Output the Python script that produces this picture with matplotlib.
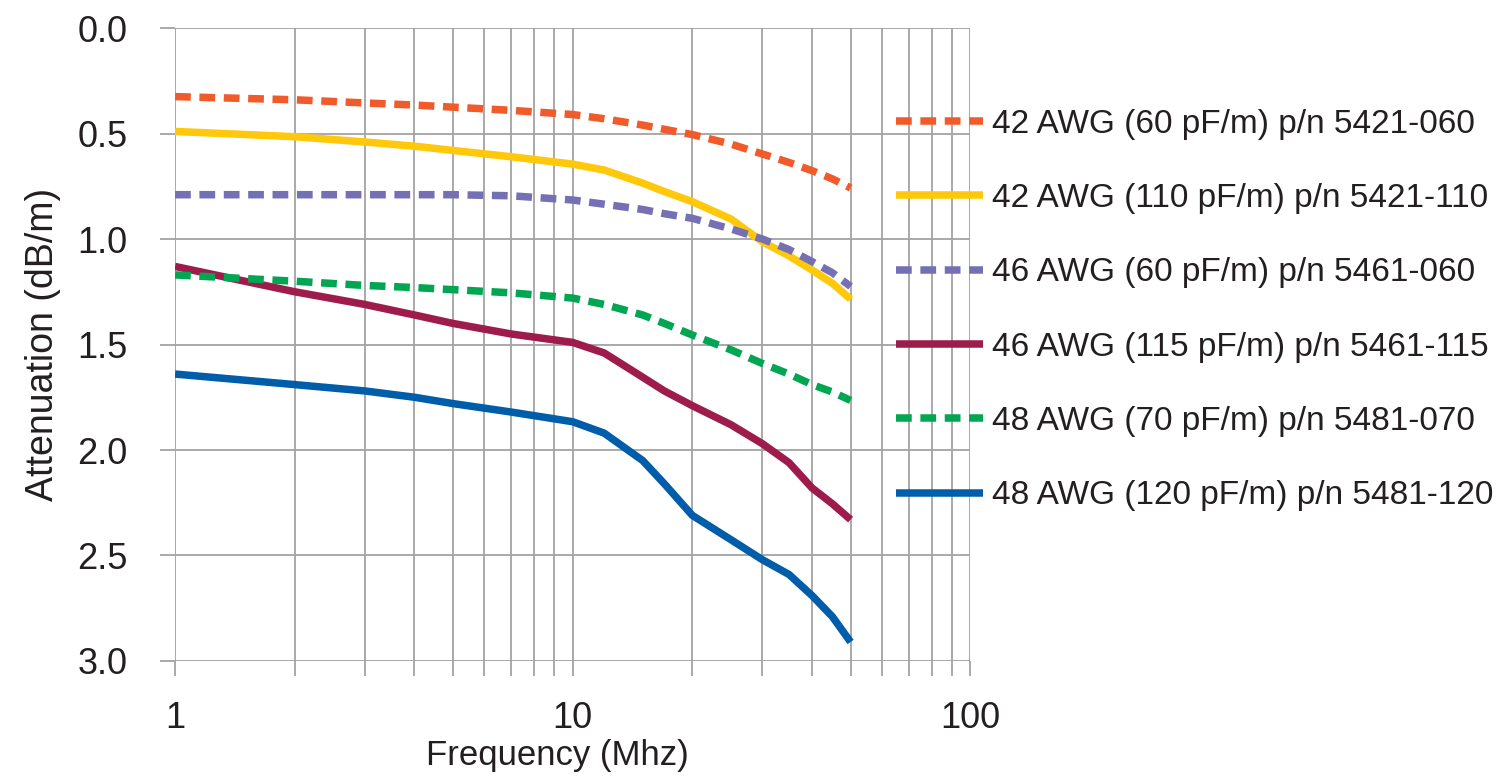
import matplotlib
matplotlib.use("Agg")
import matplotlib.pyplot as plt
from matplotlib.ticker import LogLocator, FixedLocator, NullFormatter

plt.rcParams["font.family"] = ["Liberation Sans", "DejaVu Sans"]

# frequency points (MHz)
freq = [1, 2, 3, 4, 5, 7, 10, 12, 15, 17, 20, 25, 30, 35, 40, 45, 50]

# attenuation (dB/m)
awg42_60  = [0.325, 0.34, 0.355, 0.365, 0.375, 0.39, 0.41, 0.43, 0.46, 0.48, 0.505, 0.55, 0.597, 0.637, 0.676, 0.715, 0.758]
awg42_110 = [0.49, 0.515, 0.54, 0.56, 0.58, 0.61, 0.645, 0.673, 0.735, 0.775, 0.823, 0.905, 1.013, 1.08, 1.147, 1.21, 1.285]
awg46_60  = [0.79, 0.79, 0.79, 0.79, 0.79, 0.795, 0.815, 0.835, 0.86, 0.88, 0.902, 0.952, 1.0, 1.05, 1.107, 1.16, 1.225]
awg46_115 = [1.13, 1.25, 1.31, 1.36, 1.40, 1.45, 1.49, 1.54, 1.655, 1.72, 1.79, 1.88, 1.97, 2.06, 2.18, 2.255, 2.33]
awg48_70  = [1.17, 1.20, 1.22, 1.23, 1.24, 1.255, 1.28, 1.31, 1.36, 1.40, 1.455, 1.525, 1.59, 1.64, 1.69, 1.725, 1.765]
awg48_120 = [1.64, 1.69, 1.72, 1.75, 1.78, 1.82, 1.866, 1.92, 2.05, 2.16, 2.31, 2.425, 2.52, 2.59, 2.69, 2.79, 2.91]

series = [
    ("42 AWG (60 pF/m) p/n 5421-060",  awg42_60,  "#F15A2B", True),
    ("42 AWG (110 pF/m) p/n 5421-110", awg42_110, "#FFC80A", False),
    ("46 AWG (60 pF/m) p/n 5461-060",  awg46_60,  "#7570B3", True),
    ("46 AWG (115 pF/m) p/n 5461-115", awg46_115, "#9D1C4B", False),
    ("48 AWG (70 pF/m) p/n 5481-070",  awg48_70,  "#00A651", True),
    ("48 AWG (120 pF/m) p/n 5481-120", awg48_120, "#005DAA", False),
]

yticks = [0.0, 0.5, 1.0, 1.5, 2.0, 2.5, 3.0]
xticklabels = ["1", "10", "100"]

GRID = "#A3A3A3"
TXT = "#231F20"

fig = plt.figure(figsize=(15.09, 7.79), dpi=100)
ax = fig.add_axes([0.116, 0.1515, 0.527, 0.8125])

for label, vals, col, dashed in series:
    ln, = ax.plot(freq, vals, color=col, linewidth=5.4, label=label,
                  solid_capstyle="butt", dash_capstyle="butt",
                  solid_joinstyle="round", zorder=3)
    if dashed:
        ln.set_dashes((2.1, 1.15))

ax.set_xscale("log")
ax.set_xlim(1, 100)
ax.set_ylim(3.0, 0.0)
ax.set_yticks(yticks)
ax.set_yticklabels([f"{v:.1f}" for v in yticks])
ax.xaxis.set_major_locator(FixedLocator([1, 10, 100]))
ax.set_xticklabels(xticklabels)
ax.xaxis.set_minor_locator(LogLocator(base=10, subs=range(2, 10)))
ax.xaxis.set_minor_formatter(NullFormatter())

ax.grid(True, which="both", color=GRID, linewidth=1.3, zorder=0)
for s in ax.spines.values():
    s.set_visible(False)
ax.tick_params(axis="both", which="both", color=GRID, width=1.3, length=11,
               labelsize=26, labelcolor=TXT)
ax.tick_params(axis="y", pad=23)
ax.tick_params(axis="x", pad=18)

ax.set_xlabel("Frequency (Mhz)", fontsize=25, color=TXT, labelpad=0)
ax.xaxis.set_label_coords(0.481, -0.124)
ax.set_ylabel("Attenuation (dB/m)", fontsize=27, color=TXT, labelpad=12)

fig.legend(loc="upper left", bbox_to_anchor=(0.574, 0.899), frameon=False,
           fontsize=24, handlelength=2.6, handletextpad=0.28,
           labelspacing=1.3, labelcolor=TXT)

fig.savefig("out.png", dpi=100)
